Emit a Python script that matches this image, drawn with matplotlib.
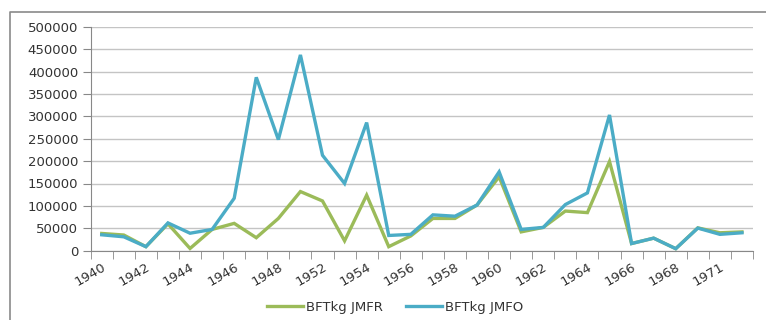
import numpy as np
import matplotlib
matplotlib.use('Agg')
import matplotlib.pyplot as plt
from matplotlib.lines import Line2D

years = ['1940', '1941', '1942', '1943', '1944', '1945', '1946', '1947', '1948', '1950',
         '1952', '1953', '1954', '1955', '1956', '1957', '1958', '1959', '1960', '1961',
         '1962', '1963', '1964', '1965', '1966', '1967', '1968', '1970', '1971', '1972']

jmfr = [38500, 35000, 9000, 60000, 5000, 47500, 61000, 29000, 72000, 132000,
        111000, 22000, 124000, 9000, 33000, 72000, 72000, 102000, 165000, 42000,
        52000, 88500, 85000, 199000, 16000, 28000, 4500, 51000, 40000, 42000]

jmfo = [35500, 31000, 9000, 62000, 39000, 47500, 117000, 387000, 248000, 437000,
        213000, 150000, 286000, 34000, 36500, 80000, 77000, 102000, 176000, 47500,
        52000, 103000, 129000, 303000, 16000, 28000, 4500, 50500, 36500, 40000]

green = '#9BBB59'
blue = '#4BACC6'
plt.rcParams['font.family'] = ['DejaVu Sans']

fig = plt.figure(figsize=(7.66, 3.2), dpi=100)
ax = fig.add_axes([90.7 / 766, 1 - 250.7 / 320, (753 - 90.7) / 766, 224 / 320])

x = np.arange(len(years))
ax.plot(x, jmfr, color=green, lw=2.4, label='BFTkg JMFR', solid_joinstyle='miter')
ax.plot(x, jmfo, color=blue, lw=2.4, label='BFTkg JMFO', solid_joinstyle='miter')

ax.set_xlim(-0.5, len(years) - 0.5)
ax.set_ylim(0, 500000)
ax.set_yticks(np.arange(0, 500001, 50000))
ax.set_yticklabels([str(v) for v in range(0, 500001, 50000)], fontsize=9.5, color='#333333')
ax.yaxis.grid(True, color='#c4c4c4', lw=1)
ax.set_axisbelow(True)

ax.set_xticks(x[::2])
ax.set_xticklabels(years[::2], rotation=30, ha='right', rotation_mode='anchor',
                   fontsize=9.5, color='#333333')
ax.set_xticks(np.arange(-0.5, len(years)), minor=True)
ax.tick_params(axis='x', which='major', length=0, pad=7)
ax.tick_params(axis='x', which='minor', length=6, color='#888888')
ax.tick_params(axis='y', length=6, color='#888888', pad=3)

for s in ['top', 'right']:
    ax.spines[s].set_visible(False)
for s in ['left', 'bottom']:
    ax.spines[s].set_color('#888888')

# outer chart border (left and top visible)
fig.add_artist(Line2D([10 / 766, 10 / 766, 1], [0, 1 - 12 / 320, 1 - 12 / 320],
                      color='#8a8a8a', lw=1.2, transform=fig.transFigure))

fig.legend(loc='center', bbox_to_anchor=(0.516, 0.04), ncol=2, frameon=False,
           fontsize=9.5, handlelength=2.7, handletextpad=0.25, columnspacing=1.8,
           labelcolor='#333333')

fig.savefig('out.png', dpi=100)
